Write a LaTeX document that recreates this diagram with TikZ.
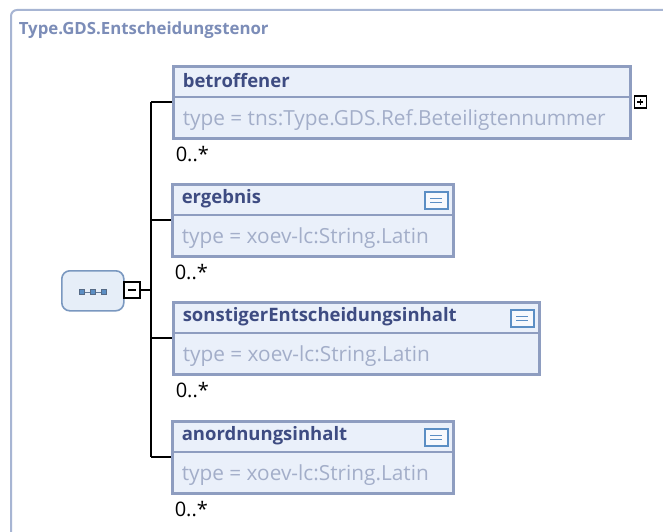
\documentclass[tikz,border=0pt]{standalone}
\usepackage{fontspec}
\setmainfont{Open Sans}
\usepackage{tikz}
\usetikzlibrary{positioning}

\definecolor{framecol}{HTML}{A7B5D3}
\definecolor{titlecol}{HTML}{7C8DB8}
\definecolor{elemfill}{HTML}{EAF0FA}
\definecolor{elemline}{HTML}{8E9DC0}
\definecolor{namecol}{HTML}{3E4C82}
\definecolor{typecol}{HTML}{A3AEC9}
\definecolor{seqfill}{HTML}{E6EEF8}
\definecolor{seqline}{HTML}{7A98C0}
\definecolor{iconcol}{HTML}{5B8EC4}

\begin{document}
\begin{tikzpicture}[
            x=1pt, y=-1pt,
            elem/.style={draw=elemline, fill=elemfill, line width=2.6pt, anchor=north west, minimum height=72pt, inner sep=0pt},
            elemname/.style={anchor=west, text=namecol, font=\fontsize{18.5}{20}\selectfont\bfseries, inner sep=0pt},
            elemtype/.style={anchor=west, text=typecol, font=\fontsize{20.8}{22}\selectfont, inner sep=0pt},
            occurs/.style={anchor=west, font=\fontsize{20}{22}\selectfont, inner sep=0pt},
            simpleicon/.style={draw=iconcol, fill=white!60!elemfill, line width=1.5pt, minimum width=23pt, minimum height=17pt, inner sep=0pt},
            togglebox/.style={draw=black, fill=white, line width=1.4pt, minimum size=12pt, inner sep=0pt},
            every path/.style={line width=1.6pt}
        ]
            \useasboundingbox (0,0) rectangle (663,532);
            % outer type frame
            \draw[framecol, line width=2pt, rounded corners=6pt, fill=white] (11,10) rectangle (700,580);
            \node[anchor=west, text=titlecol, font=\fontsize{16.8}{18}\selectfont\bfseries, inner sep=0pt] (title) at (18,30) {Type.GDS.Entscheidungstenor};

            % sequence compositor
            \node[draw=seqline, fill=seqfill, line width=1.6pt, rounded corners=8pt, minimum width=62pt, minimum height=40pt, anchor=north west] (seq) at (61,270) {};
            \node[togglebox, minimum size=16pt] (seqminus) at (132,290) {};
            \draw[line width=1.5pt] ([xshift=-4pt]seqminus.center) -- ([xshift=4pt]seqminus.center);
            \draw[seqline!80!black, line width=0.8pt] (82,292) -- (104,292);
            \foreach \dx in {82,93,104}
                \draw[fill=iconcol, draw=seqline!70!black, line width=0.6pt] (\dx-2.5,289.5) rectangle (\dx+2.5,294.5);

            % elements
            \node[elem, minimum width=457pt] (betroffener) at (172,65) {};
            \node[elem, minimum width=281pt] (ergebnis) at (171,183) {};
            \node[elem, minimum width=366pt] (sonstiger) at (172,301) {};
            \node[elem, minimum width=281pt] (anordnung) at (171,420) {};

            \foreach \e in {betroffener,ergebnis,sonstiger,anordnung}
                \draw[elemline, line width=1.5pt] ([yshift=-32pt]\e.north west) -- ([yshift=-32pt]\e.north east);

            \node[elemname] (n1) at ([xshift=10pt,yshift=-16pt]betroffener.north west) {betroffener};
            \node[elemtype] (t1) at ([xshift=10pt,yshift=20pt]betroffener.south west) {type = tns:Type.GDS.Ref.Beteiligtennummer};
            \node[elemname] (n2) at ([xshift=10pt,yshift=-16pt]ergebnis.north west) {ergebnis};
            \node[elemtype] (t2) at ([xshift=10pt,yshift=20pt]ergebnis.south west) {type = xoev-lc:String.Latin};
            \node[elemname] (n3) at ([xshift=10pt,yshift=-16pt]sonstiger.north west) {sonstigerEntscheidungsinhalt};
            \node[elemtype] (t3) at ([xshift=10pt,yshift=20pt]sonstiger.south west) {type = xoev-lc:String.Latin};
            \node[elemname] (n4) at ([xshift=10pt,yshift=-16pt]anordnung.north west) {anordnungsinhalt};
            \node[elemtype] (t4) at ([xshift=10pt,yshift=20pt]anordnung.south west) {type = xoev-lc:String.Latin};

            % simple type icons
            \foreach \e/\i in {ergebnis/i2,sonstiger/i3,anordnung/i4} {
                \node[simpleicon, anchor=north east] (\i) at ([xshift=-6pt,yshift=-8pt]\e.north east) {};
                \draw[iconcol, line width=1pt] ([xshift=-6pt,yshift=1.8pt]\i.center) -- ([xshift=6pt,yshift=1.8pt]\i.center);
                \draw[iconcol, line width=1pt] ([xshift=-6pt,yshift=-1.8pt]\i.center) -- ([xshift=6pt,yshift=-1.8pt]\i.center);
            }

            % expand box
            \node[togglebox, anchor=west] (plus1) at ([xshift=2pt,yshift=-37pt]betroffener.north east) {};
            \draw[line width=1.4pt] ([xshift=-3pt]plus1.center) -- ([xshift=3pt]plus1.center);
            \draw[line width=1.4pt] ([yshift=-3pt]plus1.center) -- ([yshift=3pt]plus1.center);

            % occurrences
            \foreach \e/\o in {betroffener/o1,ergebnis/o2,sonstiger/o3,anordnung/o4}
                \node[occurs] (\o) at ([xshift=3pt,yshift=-14pt]\e.south west) {0..*};

            % connectors
            \coordinate (spine) at (151,290);
            \draw (seqminus.east) -- (spine);
            \draw ([yshift=-37pt]betroffener.north west -| spine) -- ([yshift=-37pt]anordnung.north west -| spine);
            \foreach \e in {betroffener,ergebnis,sonstiger,anordnung}
                \draw ([yshift=-37pt]\e.north west -| spine) -- ([yshift=-37pt]\e.north west);
        \end{tikzpicture}
\end{document}
